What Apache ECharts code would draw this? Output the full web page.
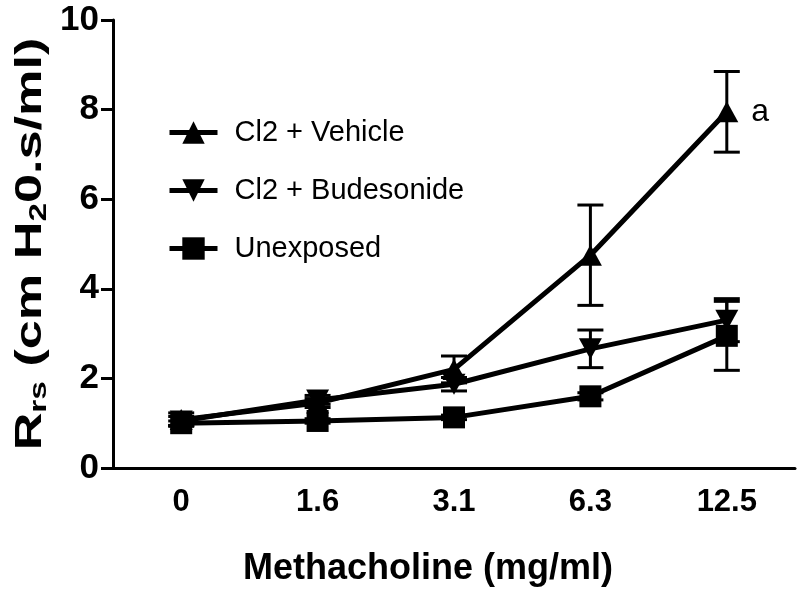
<!DOCTYPE html>
<html>
<head>
<meta charset="utf-8">
<script src="https://cdn.jsdelivr.net/npm/echarts@6/dist/echarts.min.js"></script>
<style>
html,body{margin:0;padding:0;background:#fff;}
#chart{width:800px;height:592px;}
</style>
</head>
<body>
<div id="chart"></div>
<script>
const categories = ['0', '1.6', '3.1', '6.3', '12.5'];
const seriesNames = ['Cl2 + Vehicle', 'Cl2 + Budesonide', 'Unexposed'];
const vehicleMean = [1.08, 1.45, 2.2, 4.75, 7.95];
const vehicleSem = [0.15, 0.1, 0.3, 1.12, 0.9];
const budesonideMean = [1.05, 1.52, 1.87, 2.66, 3.3];
const budesonideSem = [0.1, 0.1, 0.15, 0.42, 0.48];
const unexposedMean = [1.0, 1.05, 1.13, 1.6, 2.95];
const unexposedSem = [0.05, 0.05, 0.05, 0.08, 0.77];
const yTicks = [0, 2, 4, 6, 8, 10];
const annotation = 'a';
const xTitle = 'Methacholine (mg/ml)';
const yTitle = '{m|R}{s|rs}{m| (cm H}{s|2}{m|0.s/ml)}';

const FONT = 'Liberation Sans, Arial, Helvetica, sans-serif';
const chart = echarts.init(document.getElementById('chart'));

function errData(mean, sem) {
  return mean.map((m, i) => [i, m - sem[i], m + sem[i]]);
}
function errSeries(mean, sem) {
  return {
    type: 'custom',
    silent: true,
    z: 1,
    data: errData(mean, sem),
    renderItem: function (params, api) {
      const x = api.value(0);
      const lo = api.coord([x, api.value(1)]);
      const hi = api.coord([x, api.value(2)]);
      const w = 13;
      const st = { stroke: '#000', lineWidth: 3 };
      return {
        type: 'group',
        children: [
          { type: 'line', shape: { x1: lo[0], y1: lo[1], x2: hi[0], y2: hi[1] }, style: st },
          { type: 'line', shape: { x1: hi[0] - w, y1: hi[1], x2: hi[0] + w, y2: hi[1] }, style: st },
          { type: 'line', shape: { x1: lo[0] - w, y1: lo[1], x2: lo[0] + w, y2: lo[1] }, style: st }
        ]
      };
    }
  };
}

const lineCommon = {
  type: 'line',
  z: 3,
  lineStyle: { color: '#000', width: 5 },
  itemStyle: { color: '#000' },
  showSymbol: true,
  animation: false
};

const option = {
  animation: false,
  backgroundColor: '#fff',
  grid: { left: 113, right: 5, top: 20, bottom: 122, containLabel: false },
  graphic: [{
    type: 'text',
    x: 31,
    y: 244,
    rotation: Math.PI / 2,
    scaleX: 1.45,
    style: {
      text: yTitle,
      align: 'center',
      verticalAlign: 'middle',
      rich: {
        m: { fontFamily: FONT, fontSize: 36, fontWeight: 'bold', fill: '#000', lineHeight: 40 },
        s: { fontFamily: FONT, fontSize: 23, fontWeight: 'bold', fill: '#000', lineHeight: 20, verticalAlign: 'bottom' }
      }
    }
  }],
  legend: {
    orient: 'vertical',
    left: 162,
    top: 113,
    itemGap: 29,
    itemWidth: 48,
    itemHeight: 28,
    data: seriesNames,
    lineStyle: { width: 5, color: '#000' },
    textStyle: { fontFamily: FONT, fontSize: 29, color: '#000', padding: [0, 0, 0, 12] }
  },
  xAxis: {
    type: 'category',
    data: categories,
    boundaryGap: true,
    name: xTitle,
    nameLocation: 'middle',
    nameGap: 83,
    nameTextStyle: { fontFamily: FONT, fontSize: 36, fontWeight: 'bold', color: '#000', padding: [0, 52, 0, 0] },
    axisLine: { lineStyle: { color: '#000', width: 3 } },
    axisTick: { alignWithLabel: true, length: 10, lineStyle: { color: '#000', width: 3 } },
    axisLabel: { fontFamily: FONT, fontSize: 31, fontWeight: 'bold', color: '#000', margin: 19 },
    splitLine: { show: false }
  },
  yAxis: {
    type: 'value',
    min: yTicks[0],
    max: yTicks[yTicks.length - 1],
    interval: 2,
    axisLine: { show: true, lineStyle: { color: '#000', width: 3 } },
    axisTick: { show: true, length: 12, lineStyle: { color: '#000', width: 3 } },
    axisLabel: { fontFamily: FONT, fontSize: 35, fontWeight: 'bold', color: '#000', margin: 14 },
    splitLine: { show: false }
  },
  series: [
    errSeries(vehicleMean, vehicleSem),
    errSeries(budesonideMean, budesonideSem),
    errSeries(unexposedMean, unexposedSem),
    Object.assign({}, lineCommon, {
      name: seriesNames[0],
      symbol: 'triangle',
      symbolSize: [23, 21],
      data: vehicleMean.map((v, i) => i === vehicleMean.length - 1
        ? { value: v, label: { show: true, formatter: annotation, position: 'right', distance: 13, fontFamily: FONT, fontSize: 32, color: '#000' } }
        : v)
    }),
    Object.assign({}, lineCommon, {
      name: seriesNames[1],
      symbol: 'triangle',
      symbolRotate: 180,
      symbolSize: [23, 21],
      data: budesonideMean
    }),
    Object.assign({}, lineCommon, {
      name: seriesNames[2],
      symbol: 'rect',
      symbolSize: 22,
      data: unexposedMean
    })
  ]
};
chart.setOption(option);
</script>
</body>
</html>
